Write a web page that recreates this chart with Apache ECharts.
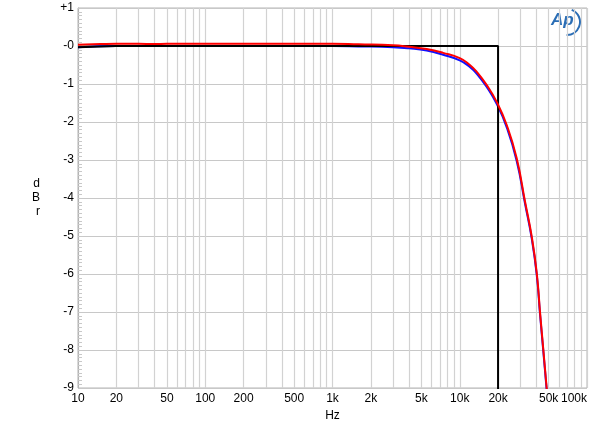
<!DOCTYPE html>
<html>
<head>
<meta charset="utf-8">
<script src="https://cdn.jsdelivr.net/npm/echarts@6/dist/echarts.min.js"></script>
<style>
html,body{margin:0;padding:0;background:#fff;}
#chart{width:600px;height:429px;}
</style>
</head>
<body>
<div id="chart"></div>
<script>
// frequency points (Hz) and levels (dBr)
var redFreq  = [10, 15, 20, 30, 40, 50, 100, 200, 500, 1000, 1600, 3000, 4000, 5500, 7400, 10000, 12000, 13600, 16300, 19500, 23400, 28000, 32600, 36800, 40300, 42800, 45400, 48200, 50000];
var redDb    = [0.03, 0.05, 0.06, 0.06, 0.05, 0.06, 0.06, 0.06, 0.06, 0.06, 0.045, 0.02, -0.02, -0.08, -0.18, -0.32, -0.5, -0.68, -1.03, -1.47, -2.08, -2.95, -4.1, -5.02, -5.98, -7.03, -8.0, -9.0, -9.6];
var blueFreq = [10, 20, 100, 1000, 1600, 3000, 4000, 5500, 7400, 10000, 12000, 13600, 16300, 19500, 23400, 28000, 32600, 36800, 40300, 42800, 45400, 48200, 50000];
var blueDb   = [-0.03, 0.0, 0.0, 0.0, -0.01, -0.03, -0.06, -0.12, -0.23, -0.38, -0.55, -0.73, -1.08, -1.52, -2.14, -3.02, -4.15, -5.07, -6.03, -7.08, -8.05, -9.05, -9.7];
var blackFreq = [10, 15, 20, 100, 1000, 10000, 20000, 20000];
var blackDb   = [-0.03, -0.01, 0.0, 0.0, 0.0, 0.0, 0.0, -12];
var greenFreq = [10, 20, 1000, 20000];
var greenDb   = [0.0, 0.01, 0.01, 0.01];

var xGridTicks = [];
[10, 100, 1000, 10000].forEach(function(d){
    for (var m = 1; m < 10; m++) xGridTicks.push(d * m);
});
xGridTicks.push(100000);
var xLabelTicks = [10, 20, 50, 100, 200, 500, 1000, 2000, 5000, 10000, 20000, 50000, 100000];

function pairs(xs, ys){
    var out = [];
    for (var i = 0; i < xs.length; i++) out.push([xs[i], ys[i]]);
    return out;
}
function fmtHz(v){
    if (v >= 100000) return '{last|100k}';
    if (v >= 1000) return (v / 1000) + 'k';
    return String(v);
}

var font = 'Liberation Sans, Arial, sans-serif';
var myChart = echarts.init(document.getElementById('chart'));
myChart.setOption({
    backgroundColor: '#fff',
    animation: false,
    grid: {left: 78, right: 13, top: 8, bottom: 41, show: true, borderColor: '#b4b4b4', borderWidth: 1},
    xAxis: {
        type: 'log', logBase: 10, min: 10, max: 100000,
        name: 'Hz', nameLocation: 'middle', nameGap: 22,
        nameTextStyle: {color: '#000', fontSize: 12, fontFamily: font},
        axisLine: {show: false},
        axisTick: {show: false, customValues: xGridTicks},
        axisLabel: {
            customValues: xLabelTicks, color: '#000', fontSize: 12, fontFamily: font, margin: 5,
            formatter: fmtHz,
            rich: {last: {padding: [0, 26, 0, 0], fontSize: 12, fontFamily: font, color: '#000'}}
        },
        splitLine: {show: true, lineStyle: {color: '#d2d2d2', width: 1.2}}
    },
    yAxis: {
        type: 'value', min: -9, max: 1, interval: 1,
        name: 'd\nB\nr', nameLocation: 'middle', nameRotate: 0, nameGap: 38,
        nameTextStyle: {color: '#000', fontSize: 12, fontFamily: font, lineHeight: 14},
        axisLine: {show: true, lineStyle: {color: '#b4b4b4'}},
        axisTick: {show: true, inside: true, length: 5, lineStyle: {color: '#c8c8c8'}},
        minorTick: {show: true, splitNumber: 10, length: 4, lineStyle: {color: '#c8c8c8'}},
        axisLabel: {
            color: '#000', fontSize: 12, fontFamily: font, margin: 4,
            formatter: function(v){ return v > 0 ? '+' + v : (v === 0 ? '-0' : String(v)); }
        },
        splitLine: {show: true, lineStyle: {color: '#c8c8c8', width: 1.2}}
    },
    series: [
        {type: 'line', data: pairs(greenFreq, greenDb), symbol: 'none', lineStyle: {color: '#5cb85c', width: 1}},
        {type: 'line', data: pairs(blueFreq, blueDb), symbol: 'none', smooth: 0.5, lineStyle: {color: '#1010ff', width: 2}},
        {type: 'line', data: pairs(blackFreq, blackDb), symbol: 'none', lineStyle: {color: '#000', width: 2}},
        {type: 'line', data: pairs(redFreq, redDb), symbol: 'none', smooth: 0.5, lineStyle: {color: '#ff0000', width: 2}}
    ],
    graphic: [
        {type: 'arc', shape: {cx: 567, cy: 22, r: 13, startAngle: -1.2, endAngle: 1.6}, style: {stroke: '#2a6db5', lineWidth: 2, fill: null}},
        {type: 'text', left: 551, top: 12, style: {text: 'Ap', font: 'italic bold 17px Liberation Sans, Arial', fill: '#2a6db5'}}
    ]
});
</script>
</body>
</html>
